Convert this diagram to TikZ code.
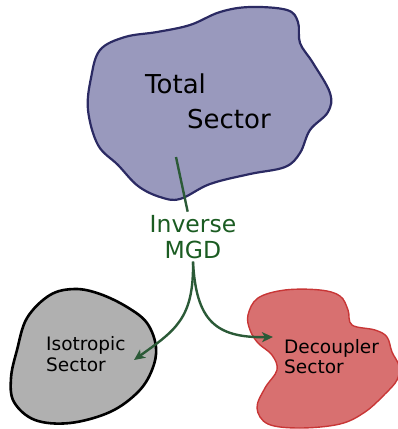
\documentclass[tikz,border=0pt]{standalone}
\usepackage{fontspec}
\setmainfont{DejaVu Sans}
\usetikzlibrary{arrows.meta}
\definecolor{totfill}{HTML}{9999BD}
\definecolor{totline}{HTML}{2B2A63}
\definecolor{isofill}{HTML}{B0B0B0}
\definecolor{decfill}{HTML}{D87070}
\definecolor{decline}{HTML}{C83636}
\definecolor{mgdtext}{HTML}{1B5C22}
\definecolor{mgdline}{HTML}{2B5A37}
\begin{document}
\begin{tikzpicture}[x=1pt,y=-1pt,
  sector/.style={align=left,inner sep=0pt,anchor=base west},
  map/.style={mgdline,line width=2.4pt},
  maparrow/.style={map,-{Stealth[length=11pt,width=10pt,inset=3pt]}}]
\useasboundingbox (0,0) rectangle (397,429);
% the three sectors
\draw[totline,line width=2.2pt,fill=totfill] plot[smooth cycle,tension=.6] coordinates {
  (100,50) (125,37) (157,32) (190,25) (220,12) (250,7) (287,10) (298,22) (300,43)
  (313,63) (330,93) (328,112) (310,130) (300,153) (285,167) (250,174) (210,184)
  (180,199) (160,197) (138,186) (118,165) (98,145) (88,110) (91,78)};
\draw[black,line width=2.6pt,fill=isofill] plot[smooth cycle,tension=.6] coordinates {
  (27,318) (50,295) (75,289) (100,294) (127,307) (147,323) (156,347) (152,370)
  (138,392) (110,412) (70,423) (35,420) (14,402) (11,378) (17,350)};
\draw[decline,line width=1.4pt,fill=decfill] plot[smooth cycle,tension=.6] coordinates {
  (248,315) (258,298) (285,290) (320,290) (340,296) (348,310) (352,325) (375,330)
  (387,337) (392,352) (399,366) (397,380) (385,394) (365,412) (340,424) (300,428)
  (268,424) (257,408) (265,388) (277,370) (272,355) (258,343) (250,330)};
% base anchor sits on the last line
\node[sector,font=\fontsize{26}{35}\selectfont] (total) at (145,128) {Total\\\hspace*{42pt}Sector};
\node[sector,font=\fontsize{18.5}{21}\selectfont] (iso) at (46,371) {Isotropic\\Sector};
\node[sector,font=\fontsize{18.5}{20}\selectfont] (dec) at (284,373) {Decoupler\\Sector};
% the map between them
\node[mgdtext,align=center,inner sep=3pt,anchor=base,font=\fontsize{23.5}{26}\selectfont] (mgd) at (193,258) {Inverse\\MGD};
\coordinate (src) at (176,157);
\coordinate (isotip) at (134,360);
\coordinate (dectip) at (273,337);
\draw[map] (src) -- (mgd);
\draw[maparrow] (mgd.south) .. controls (194,318) and (176,330) .. (isotip);
\draw[maparrow] (mgd.south) .. controls (196,320) and (215,338) .. (dectip);
\end{tikzpicture}
\end{document}
